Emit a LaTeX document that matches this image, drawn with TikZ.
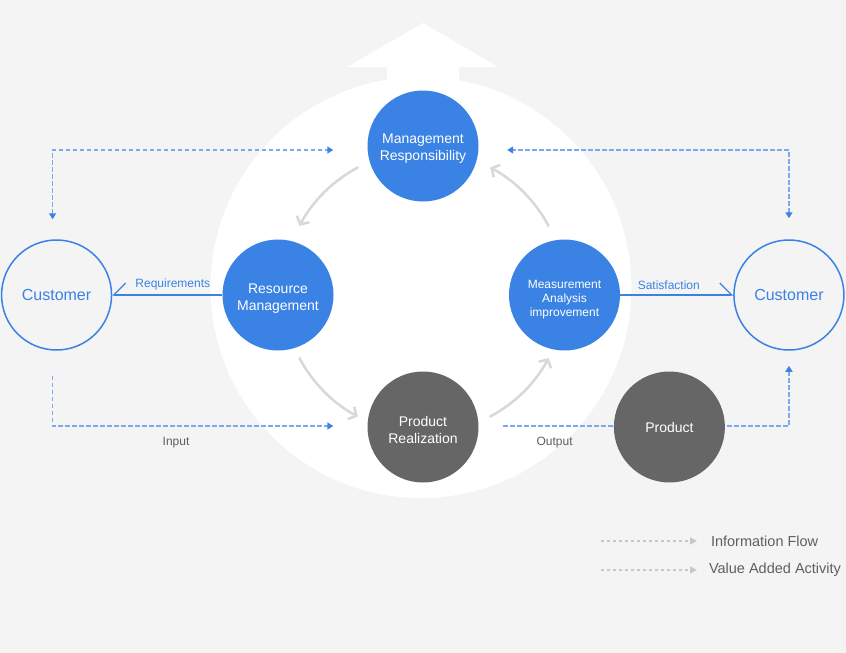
\documentclass[tikz,border=0pt]{standalone}
\usepackage{fontspec}
\setmainfont{Liberation Sans}
\usetikzlibrary{arrows.meta, positioning}

\definecolor{qblue}{RGB}{58,130,228}
\definecolor{qdash}{RGB}{125,168,236}
\definecolor{qdark}{RGB}{102,102,102}
\definecolor{qbg}{RGB}{244,244,244}
\definecolor{qarc}{RGB}{216,216,216}
\definecolor{qkey}{RGB}{200,200,200}
\definecolor{qtext}{RGB}{95,95,95}

% raise the top of a first line, so that the lines sit lower in the circle
\newcommand{\lift}[1]{\rule{0pt}{#1}}

\begin{document}
\begin{tikzpicture}[x=1pt, y=-1pt,
    proc/.style={circle, fill=qblue, minimum size=111pt, inner sep=0pt, text=white, align=center, font=\fontsize{14}{17}\selectfont},
    done/.style={proc, fill=qdark},
    client/.style={circle, draw=qblue, line width=1.5pt, minimum size=110pt, inner sep=0pt, text=qblue, font=\fontsize{16}{19}\selectfont},
    info/.style={qdash, line width=1.5pt, dash pattern=on 4.5pt off 2.5pt, >={Triangle[length=6pt, width=7pt, color=qblue]}},
    link/.style={qblue, line width=1.2pt},
    tag/.style={text=qblue, font=\fontsize{12}{14}\selectfont},
    note/.style={text=qtext, font=\fontsize{12}{14}\selectfont},
    cyclearc/.style={qarc, line width=2.5pt, line cap=round, -{Straight Barb[length=6pt, width=14pt]}},
    legend/.style={text=qtext, font=\fontsize{14.5}{17}\selectfont},
    key/.style={qkey, line width=1.5pt, dash pattern=on 3pt off 3pt, -{Triangle[length=7pt, width=7pt]}}]

    % background, white disc and the up arrow
    \fill[qbg] (0,0) rectangle (846,653);
    \useasboundingbox (0,0) rectangle (846,653);
    \fill[white] (421,287.5) circle[radius=210.5];
    \fill[white] (387,90) -- (387,67) -- (347,67) -- (423,23) -- (498,67) -- (459,67) -- (459,90) -- cycle;

    % the cycle
    \node[proc] (mr) at (423,146) {\lift{14.5pt}Management\\Responsibility};
    \node[proc] (rm) at (278,295) {\lift{16.5pt}Resource\\Management};
    \node[proc, font=\fontsize{12}{14}\selectfont] (ma) at (564.5,295) {\lift{17pt}Measurement\\Analysis\\improvement};
    \node[done] (pr) at (423,427) {\lift{16.5pt}Product\\Realization};
    \node[client, left=110pt of rm] (cl) {Customer};
    \node[client, right=113pt of ma] (cr) {Customer};

    \coordinate (hub) at (424,292);
    \foreach \a in {45,135,225,315}
        \draw[cyclearc] (hub) ++(\a+17:141) arc[start angle=\a+17, end angle=\a-17, radius=141];

    % information flow
    \draw[info, <->] ([shift={(-4,-20)}]cl.north) |- ([shift={(-34,4)}]mr.west);
    \draw[info, <->] ([shift={(0,-21)}]cr.north) |- ([shift={(28.5,4)}]mr.east);
    \draw[info, ->] ([shift={(-4,25)}]cl.south) |- node[note, pos=0.72, below=7pt] (inp) {Input} ([shift={(-34,-1)}]pr.west);
    \draw[info, ->] ([shift={(24.5,-1)}]pr.east) -| node[note, pos=0.09, below=7pt] (outp) {Output} ([shift={(0,15)}]cr.south);
    \node[done, right=135pt of pr] (prod) {Product};

    \draw[link, -{Straight Barb[right, length=12pt, width=24pt]}] (rm) -- node[tag, pos=0.45, above=1pt] (req) {Requirements} (cl);
    \draw[link, -{Straight Barb[left, length=12pt, width=24pt]}] (ma) -- node[tag, pos=0.43, above=1pt] (sat) {Satisfaction} (cr);

    % legend
    \node[legend, anchor=west] (lginfo) at (707.5,541) {Information Flow};
    \node[legend, anchor=west] (lgvalue) at (705.5,570) {Value Added Activity};
    \draw[key] ([xshift=-106.5pt]lginfo.west) -- ([xshift=-10.5pt]lginfo.west);
    \draw[key] ([xshift=-104.5pt]lgvalue.west) -- ([xshift=-8.5pt]lgvalue.west);
\end{tikzpicture}
\end{document}
